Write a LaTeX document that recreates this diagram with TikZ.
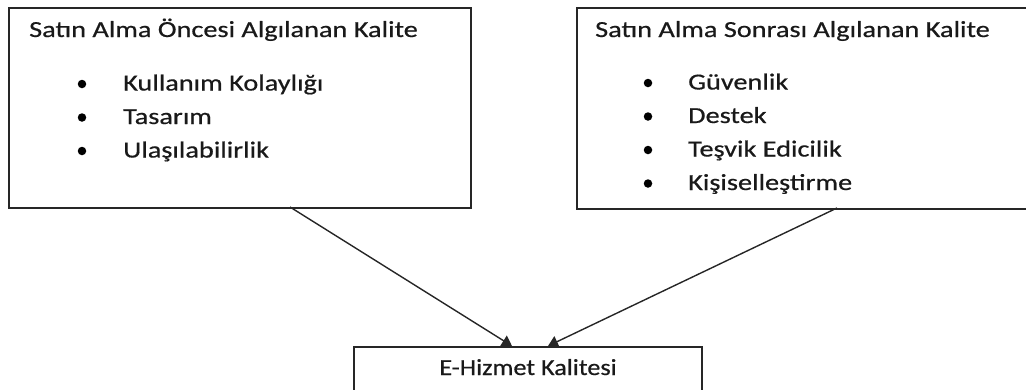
\documentclass[tikz,border=0pt]{standalone}
\usepackage{fontspec}
\setmainfont{Carlito}
\newfontfamily\mainwide[FakeStretch=1.23,FakeBold=0.6]{Carlito}
\newfontfamily\botwide[FakeStretch=1.14,FakeBold=0.6]{Carlito}
\usetikzlibrary{arrows.meta}
\begin{document}
\begin{tikzpicture}[x=1pt,y=-1pt,
  box/.style={draw=black!85,line width=1.5pt,inner sep=0pt,anchor=north west},
  txt/.style={anchor=base west,inner sep=0pt,font=\mainwide\fontsize{23}{27}\selectfont,text=black!90},
  dot/.style={fill=black,circle,inner sep=0pt,minimum size=8.5pt},
  conn/.style={draw=black!85,line width=1.4pt,-{Triangle[length=10pt,width=12pt]}}]
\clip (0,0) rectangle (1026,389);
\useasboundingbox (0,0) rectangle (1026,389);
\node[box,minimum width=462pt,minimum height=200pt] (L) at (8,7) {};
\node[box,minimum width=480pt,minimum height=201pt] (R) at (576,7) {};
\node[box,minimum width=348pt,minimum height=80pt] (B) at (353,346) {};
% left box texts
\node[txt] (lt) at (29,37) {Satın Alma Öncesi Algılanan Kalite};
\node[dot] (lb1) at (82,84) {};
\node[txt] (l1) at (123,90.5) {Kullanım Kolaylığı};
\node[dot] (lb2) at (82,117.5) {};
\node[txt] (l2) at (123,124) {Tasarım};
\node[dot] (lb3) at (82,151) {};
\node[txt] (l3) at (123,157.5) {Ulaşılabilirlik};
% right box texts
\node[txt] (rt) at (595,37) {Satın Alma Sonrası Algılanan Kalite};
\node[dot] (rb1) at (648,83) {};
\node[txt] (r1) at (688,89.5) {Güvenlik};
\node[dot] (rb2) at (648,116.5) {};
\node[txt] (r2) at (688,123) {Destek};
\node[dot] (rb3) at (648,150) {};
\node[txt] (r3) at (688,156.5) {Teşvik Edicilik};
\node[dot] (rb4) at (648,183.5) {};
\node[txt] (r4) at (688,190) {Kişiselleştirme};
% bottom
\node[anchor=base,inner sep=0pt,font=\botwide\fontsize{23}{27}\selectfont,text=black!90] (bt) at (528,375) {E-Hizmet Kalitesi};
% connectors
\coordinate (la) at (290,207);
\coordinate (ra) at (837,208);
\coordinate (lt2) at (512,346);
\coordinate (rt2) at (548,346);
\draw[conn] (la) -- (lt2);
\draw[conn] (ra) -- (rt2);
\end{tikzpicture}
\end{document}
